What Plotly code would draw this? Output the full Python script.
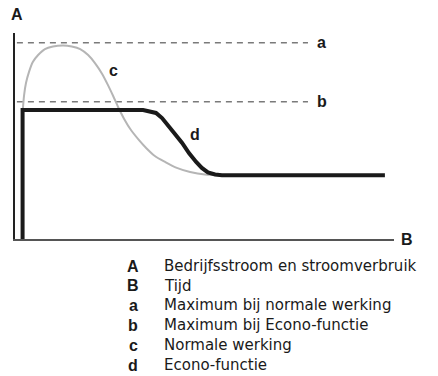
import plotly.graph_objects as go

# Time axis (arbitrary units) and current (arbitrary units)
econo_t = [2.0, 2.0, 33.8, 35.6, 37.2, 38.8, 40.4, 42.2, 44.1, 45.9, 47.8, 49.3, 50.9, 52.8, 54.6, 97.6]
econo_i = [0.0, 62.6, 62.6, 62.1, 61.2, 58.7, 55.3, 51.0, 46.6, 41.7, 37.4, 34.5, 32.3, 31.3, 31.0, 31.0]

normal_t = [2.1, 2.4, 2.9, 3.7, 4.7, 6.1, 7.9, 10.0, 12.7, 15.0, 17.2, 19.3, 21.1, 23.0, 24.5,
            25.9, 27.2, 28.8, 30.6, 32.5, 34.6, 36.9, 39.6, 42.7, 46.2, 50.1, 54.1]
normal_i = [63.6, 69.9, 75.7, 81.1, 85.9, 89.3, 92.2, 93.4, 93.9, 93.4, 92.2, 89.3, 85.4, 80.1, 74.8,
            69.4, 64.1, 58.3, 52.9, 48.5, 44.2, 40.3, 37.4, 34.5, 32.5, 31.3, 31.1]

limit_levels = [95.3, 66.6]          # a: normal maximum, b: Econo maximum
limit_names = ["a", "b"]
limit_span = [0.5, 77.3]

curve_names = ["c", "d"]
curve_label_pos = [(25.9, 82.0), (47.5, 50.5)]

legend_keys = ["A", "B", "a", "b", "c", "d"]
legend_texts = [
    "Bedrijfsstroom en stroomverbruik",
    "Tijd",
    "Maximum bij normale werking",
    "Maximum bij Econo-functie",
    "Normale werking",
    "Econo-functie",
]

W, H = 438, 376
L, R, T, B = 15, 394, 33, 239   # plot area in pixels


def px(x, y):
    """Pixel position -> paper coordinates."""
    return (x - L) / (R - L), (B - y) / (B - T)


fig = go.Figure()

for lvl in limit_levels:
    fig.add_trace(go.Scatter(
        x=limit_span, y=[lvl, lvl], mode="lines",
        line=dict(color="#7a7a7a", width=1.5, dash="6px,5px"),
        hoverinfo="skip", cliponaxis=False))

fig.add_trace(go.Scatter(
    x=normal_t, y=normal_i, mode="lines",
    line=dict(color="#b5b5b5", width=2, shape="spline", smoothing=0.8),
    hoverinfo="skip", cliponaxis=False))

fig.add_trace(go.Scatter(
    x=econo_t, y=econo_i, mode="lines",
    line=dict(color="#1a1a1a", width=4),
    hoverinfo="skip", cliponaxis=False))

bold = dict(family="Liberation Sans, Arial, sans-serif", size=16, color="#1a1a1a", weight="bold")
plain = dict(family="DejaVu Sans, sans-serif", size=15, color="#1a1a1a")

annotations = []
for name, lvl in zip(limit_names, limit_levels):
    annotations.append(dict(x=81.0, y=lvl, xref="x", yref="y", text=f"<b>{name}</b>",
                            showarrow=False, font=bold, xanchor="center", yanchor="middle"))
for name, (cx, cy) in zip(curve_names, curve_label_pos):
    annotations.append(dict(x=cx, y=cy, xref="x", yref="y", text=f"<b>{name}</b>",
                            showarrow=False, font=bold, xanchor="center", yanchor="middle"))

# axis letters
ax_x, ax_y = px(16.5, 14)
annotations.append(dict(x=ax_x, y=ax_y, xref="paper", yref="paper", text="<b>A</b>",
                        showarrow=False, font=bold, xanchor="center", yanchor="middle"))
bx_x, bx_y = px(407.5, 239)
annotations.append(dict(x=bx_x, y=bx_y, xref="paper", yref="paper", text="<b>B</b>",
                        showarrow=False, font=bold, xanchor="center", yanchor="middle"))

# key below the chart
row_y = [266, 285.5, 305, 325, 345, 365]
for key, desc, ry in zip(legend_keys, legend_texts, row_y):
    kx, ky = px(133, ry)
    annotations.append(dict(x=kx, y=ky, xref="paper", yref="paper", text=f"<b>{key}</b>",
                            showarrow=False, font=bold, xanchor="center", yanchor="middle"))
    tx, ty = px(162, ry)
    annotations.append(dict(x=tx, y=ty, xref="paper", yref="paper", text=desc,
                            showarrow=False, font=plain, xanchor="left", yanchor="middle"))

fig.update_layout(
    width=W, height=H,
    margin=dict(l=L, r=W - R, t=T, b=H - B, pad=0),
    paper_bgcolor="white", plot_bgcolor="white",
    showlegend=False,
    annotations=annotations,
    xaxis=dict(range=[0, 100], showgrid=False, zeroline=False, showticklabels=False, ticks="",
               showline=True, linecolor="#555555", linewidth=2, fixedrange=True),
    yaxis=dict(range=[0, 100], showgrid=False, zeroline=False, showticklabels=False, ticks="",
               showline=True, linecolor="#222222", linewidth=1.5, fixedrange=True),
)

fig.write_html("out.html", config=dict(displayModeBar=False))
